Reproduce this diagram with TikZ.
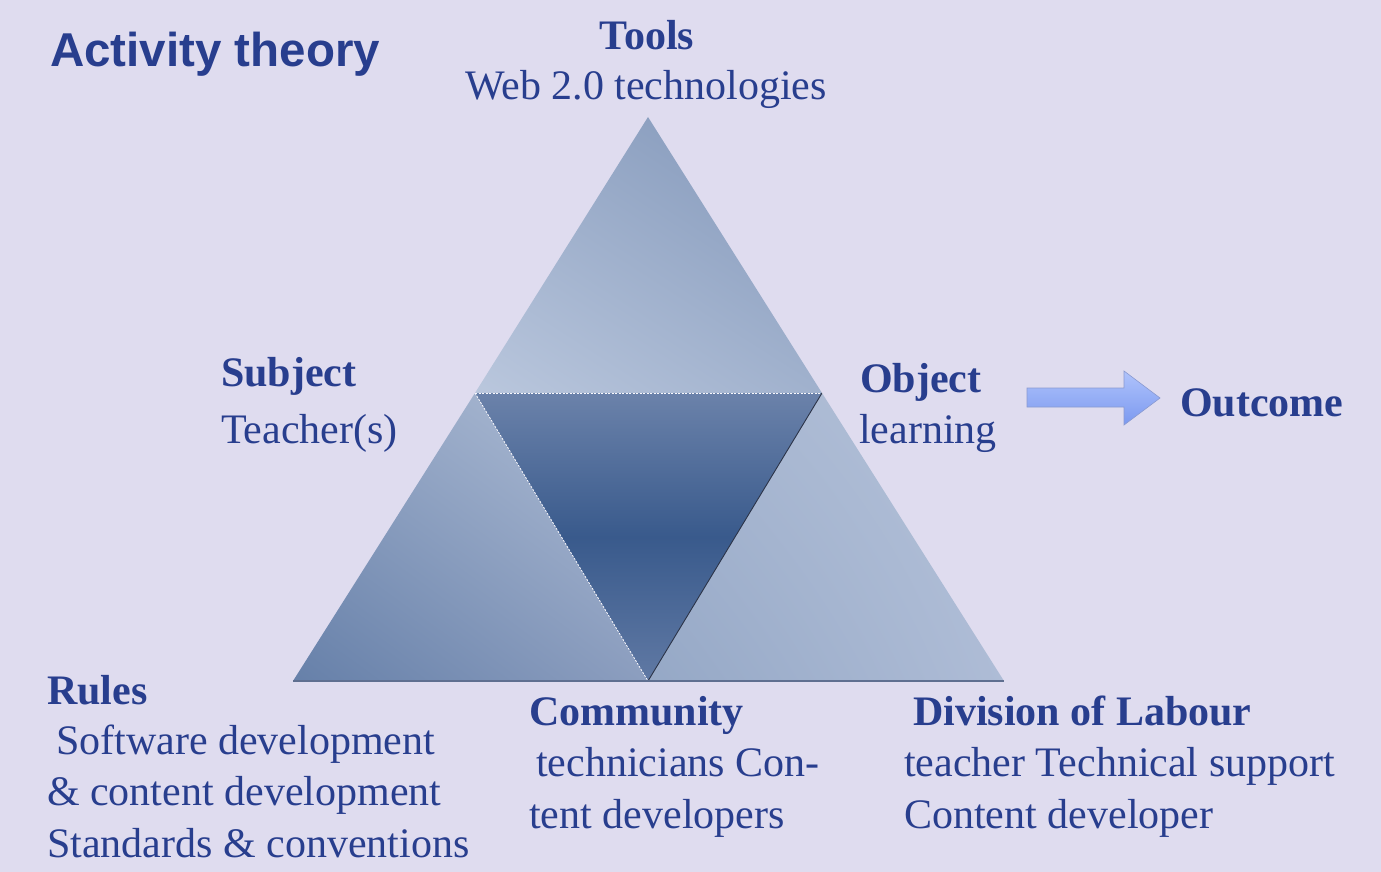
\documentclass[tikz,border=0pt]{standalone}
\usepackage{fontspec}
\usetikzlibrary{shadings}
\setmainfont{Liberation Serif}
\newfontfamily\headfont{Liberation Sans}
\definecolor{bg}{HTML}{DFDCEF}
\definecolor{ink}{HTML}{283E8E}
% triangle shades
\definecolor{topUL}{HTML}{9AACC9}
\definecolor{topUR}{HTML}{8095B8}
\definecolor{topLL}{HTML}{BAC7DD}
\definecolor{topLR}{HTML}{A0B1CD}
\definecolor{leftUL}{HTML}{8FA2C2}
\definecolor{leftUR}{HTML}{B2C0D7}
\definecolor{leftLL}{HTML}{6680A9}
\definecolor{leftLR}{HTML}{8C9EBF}
\definecolor{rightUL}{HTML}{A6B5D0}
\definecolor{rightUR}{HTML}{B4C2D9}
\definecolor{rightLL}{HTML}{95A8C6}
\definecolor{rightLR}{HTML}{AEBCD6}
\definecolor{midT}{HTML}{6B82AA}
\definecolor{midM}{HTML}{395A8C}
\definecolor{midB}{HTML}{6079A4}
\definecolor{edgedark}{HTML}{2C3448}
\definecolor{baseline}{HTML}{5F6F90}
\definecolor{arrT}{HTML}{B0C3FB}
\definecolor{arrB}{HTML}{7B99F0}
\definecolor{arrE}{HTML}{8A9AD0}
\begin{document}
\begin{tikzpicture}[x=1pt,y=-1pt,
  lbl/.style={inner sep=0pt, text=ink, anchor=base west, align=left,
              font=\fontsize{42}{51.5}\selectfont},
  hdr/.style={lbl, font=\fontsize{42}{51.5}\selectfont\bfseries},
  seam/.style={line width=0.8pt, dash pattern=on 2pt off 1.5pt, draw=white!80!bg},
]
% page background
\fill[bg] (0,0) rectangle (1381,872);
\useasboundingbox (0,0) rectangle (1381,872);

% corners of the outer triangle and of the inner one
\coordinate (apex) at (648,117);
\coordinate (bl) at (293,681);
\coordinate (br) at (1004,681);
\coordinate (ml) at (475,393);
\coordinate (mr) at (822,393);
\coordinate (mb) at (648,681);

% top triangle
\shade[upper left=topUL, upper right=topUR, lower left=topLL, lower right=topLR]
  (apex) -- (mr) -- (ml) -- cycle;
% lower left triangle
\shade[upper left=leftUL, upper right=leftUR, lower left=leftLL, lower right=leftLR]
  (ml) -- (mb) -- (bl) -- cycle;
% lower right triangle
\shade[upper left=rightUL, upper right=rightUR, lower left=rightLL, lower right=rightLR]
  (mr) -- (br) -- (mb) -- cycle;
% inner, upside-down triangle: dark band across the middle
\shade[top color=midT, bottom color=midB, middle color=midM]
  (ml) -- (mr) -- (mb) -- cycle;

% seams and base line
\draw[seam] (ml) -- (mr);
\draw[seam] (ml) -- (mb);
\draw[line width=0.9pt, draw=edgedark] (mr) -- (mb);
\draw[line width=1.2pt, draw=baseline] (bl) -- (br);

% block arrow towards the outcome
\coordinate (arrtip) at (1160,398);
\shade[top color=arrT, bottom color=arrB, draw=arrE, line width=0.6pt]
  (1027,388) -- (1124,388) -- (1124,371) -- (arrtip) -- (1124,425) -- (1124,407) -- (1027,407) -- cycle;

% title
\node[inner sep=0pt, anchor=base west, text=ink,
      font=\headfont\bfseries\fontsize{47.5}{57}\selectfont] (title) at (50,67) {Activity theory};

% labels at the corners (multi-line blocks are placed by their last baseline)
\node[hdr, anchor=base] (tools) at (647,50) {Tools};
\node[lbl, anchor=base] (toolsdesc) at (646,100) {Web 2.0 technologies};

\node[hdr] (subject) at (221,386) {Subject};
\node[lbl] (subjectdesc) at (221,443) {Teacher(s)};

\node[hdr] (object) at (860,392) {Object};
\node[lbl] (objectdesc) at (859,443) {learning};

\node[hdr] (outcome) at (1180,416) {Outcome};

\node[hdr] (rules) at (47,704) {Rules};
\node[lbl] (rulesdesc) at (47,857) {\hspace{9pt}Software development\\\& content development\\Standards \& conventions};

\node[hdr] (community) at (529,725) {Community};
\node[lbl] (communitydesc) at (529,828) {\hspace{7pt}technicians Con-\\tent developers};

\node[hdr] (division) at (913,725) {Division of Labour};
\node[lbl] (divisiondesc) at (904,828) {teacher Technical support\\Content developer};
\end{tikzpicture}
\end{document}
